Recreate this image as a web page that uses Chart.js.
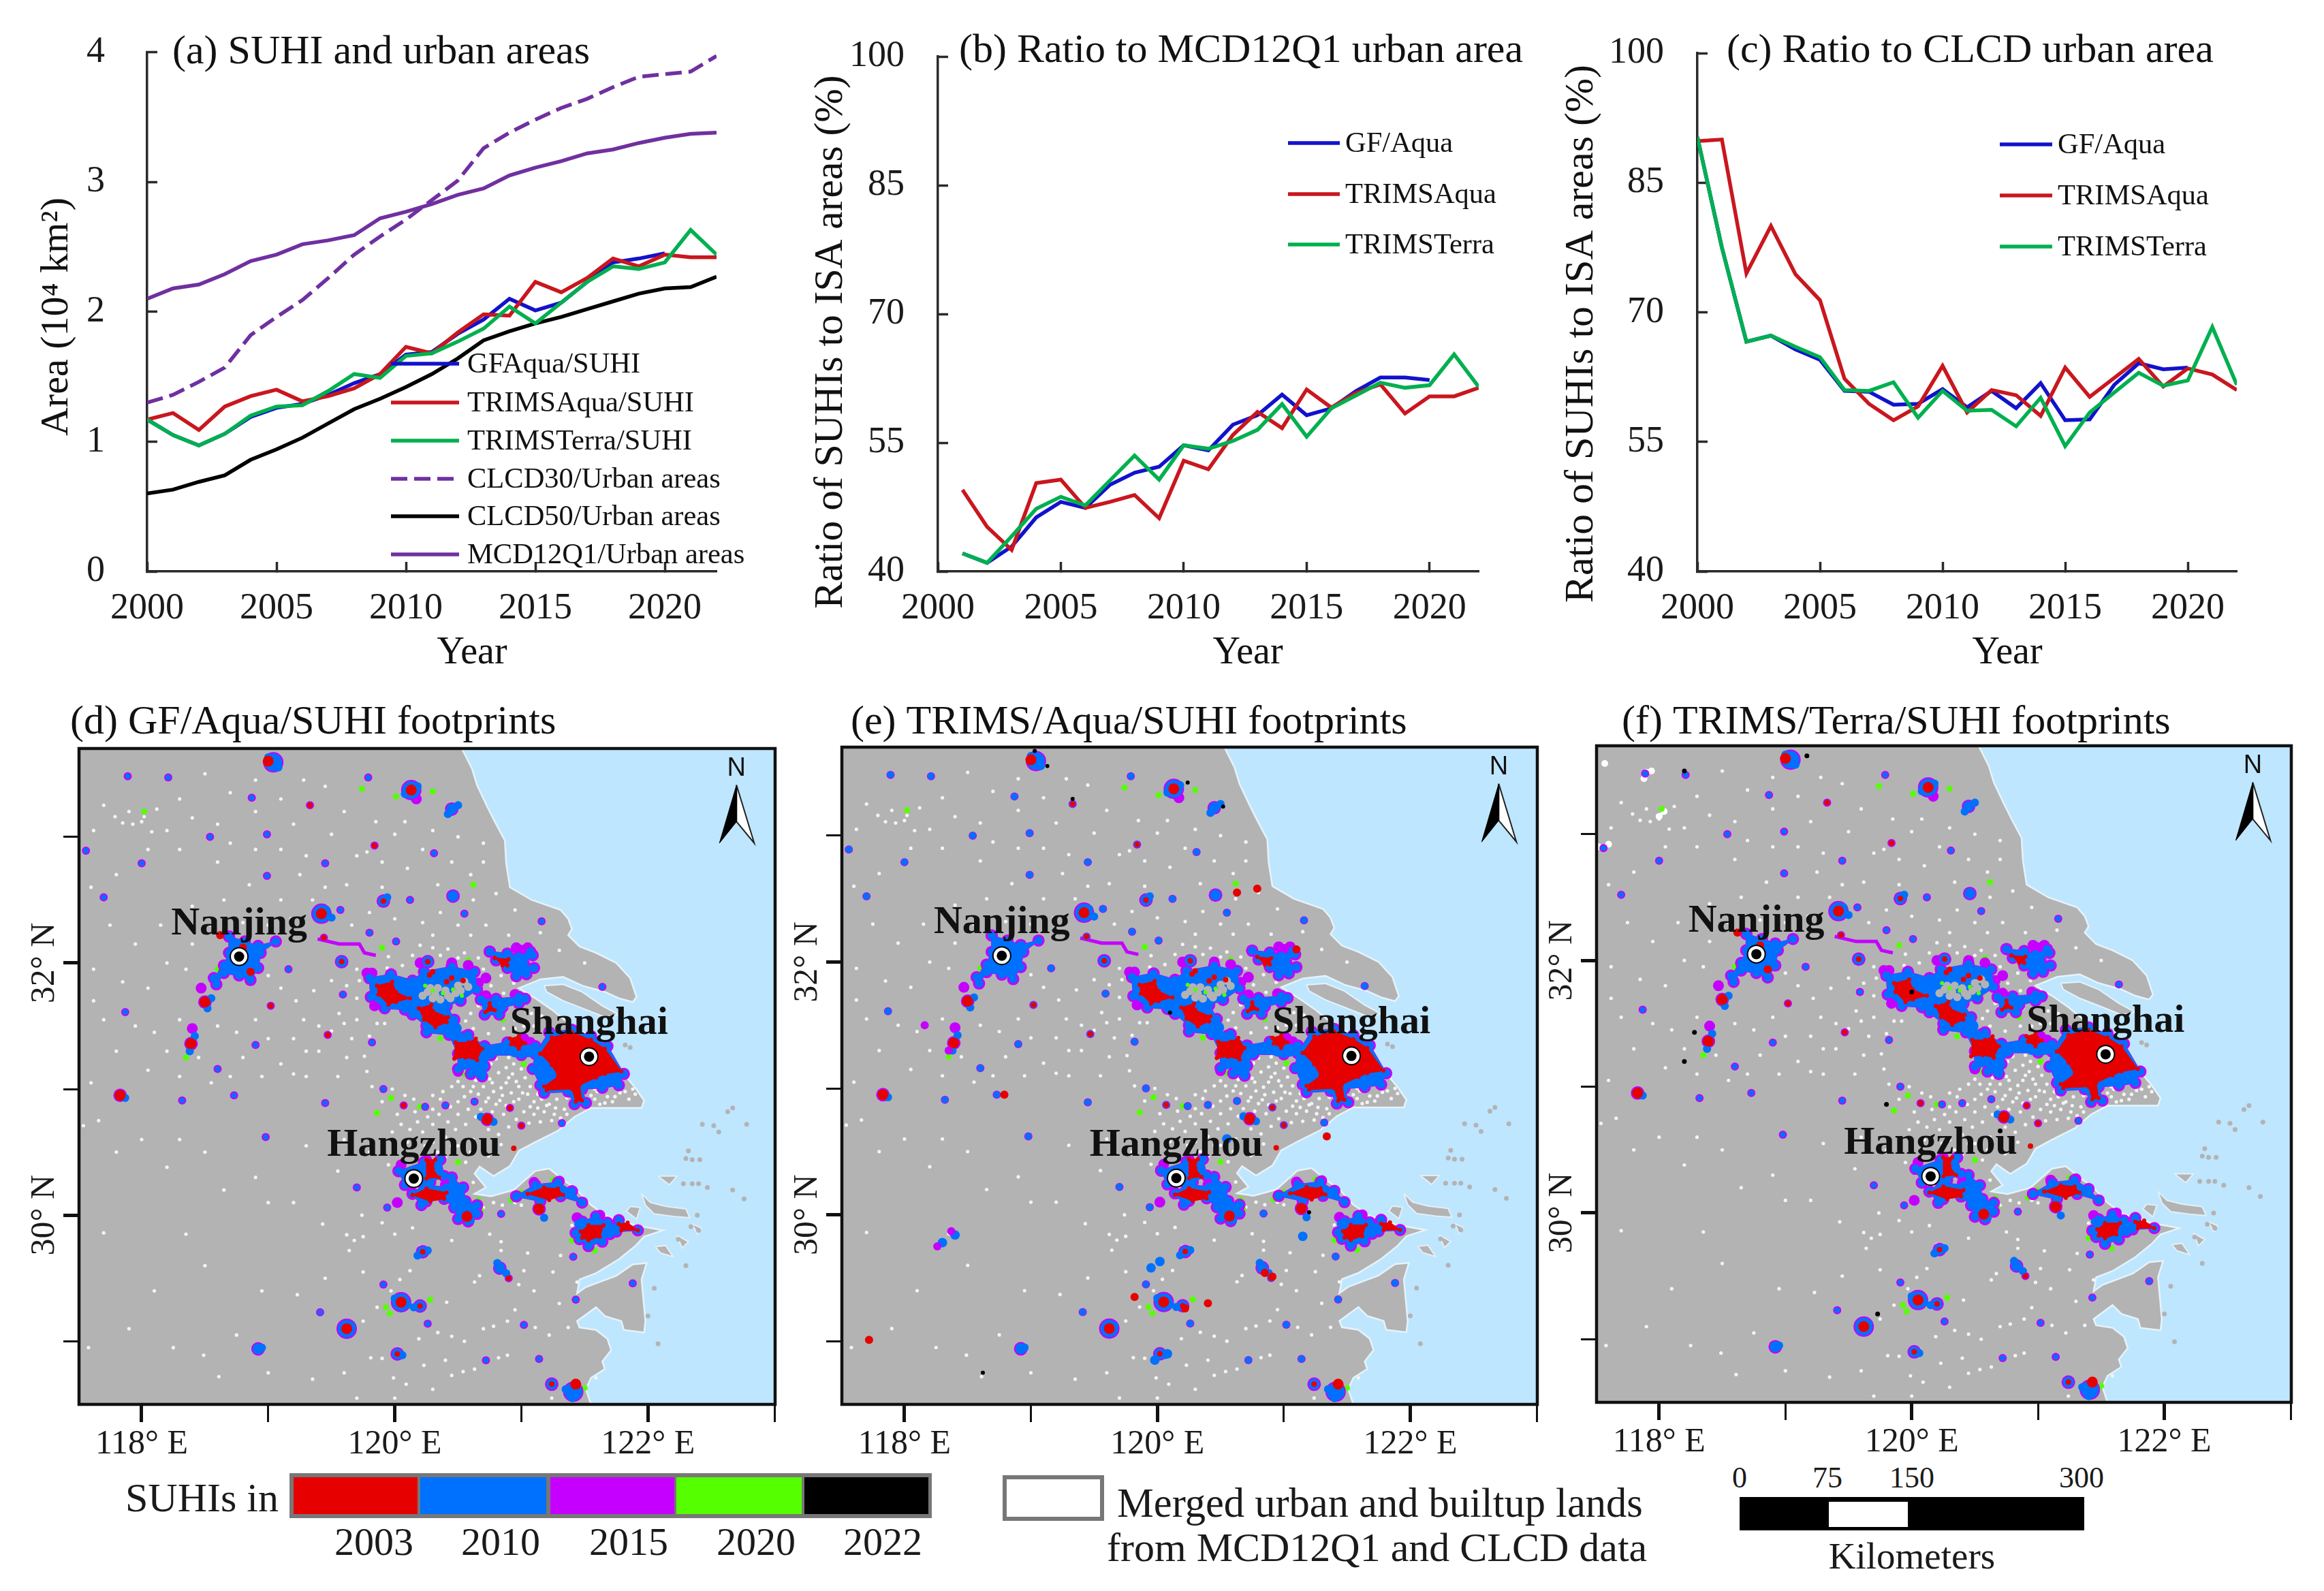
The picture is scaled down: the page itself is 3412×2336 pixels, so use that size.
<!DOCTYPE html>
<html>
<head>
<meta charset="utf-8">
<title>SUHI and urban areas</title>
<script src="https://cdn.jsdelivr.net/npm/chart.js@4/dist/chart.umd.min.js"></script>
<style>
  body { margin: 0; background: #fff; width: 3412px; height: 2336px; overflow: hidden; position: relative; font-family: "Liberation Serif", serif; color: #1a1a1a; }
  canvas { position: absolute; }
  .t { position: absolute; white-space: nowrap; transform: translate(0, -50%); line-height: 1; }
  .c { transform: translate(-50%, -50%); }
  .r { position: absolute; box-sizing: border-box; }
</style>
</head>
<body>
<script>
// ---------- line panels: values ----------
const years = [2000,2001,2002,2003,2004,2005,2006,2007,2008,2009,2010,2011,2012,2013,2014,2015,2016,2017,2018,2019,2020,2021,2022];

const areaGF = [1.17,1.05,0.97,1.06,1.19,1.26,1.29,1.36,1.45,1.52,1.67,1.69,1.83,1.94,2.10,2.01,2.07,2.23,2.38,2.41,2.45,null,null];
const areaTrimsAqua = [1.17,1.22,1.09,1.27,1.35,1.40,1.31,1.35,1.41,1.52,1.73,1.68,1.84,1.98,1.97,2.23,2.15,2.26,2.41,2.35,2.44,2.42,2.42];
const areaTrimsTerra = [1.17,1.05,0.97,1.06,1.20,1.27,1.28,1.39,1.52,1.49,1.66,1.68,1.77,1.87,2.04,1.91,2.07,2.23,2.35,2.33,2.38,2.63,2.44];
const areaClcd30 = [1.30,1.36,1.46,1.57,1.82,1.96,2.09,2.26,2.44,2.58,2.71,2.86,3.01,3.26,3.38,3.48,3.57,3.64,3.73,3.81,3.83,3.85,3.97];
const areaClcd50 = [0.60,0.63,0.69,0.74,0.86,0.94,1.03,1.14,1.25,1.33,1.42,1.52,1.64,1.78,1.85,1.91,1.96,2.02,2.08,2.14,2.18,2.19,2.27];
const areaMcd = [2.10,2.18,2.21,2.29,2.39,2.44,2.52,2.55,2.59,2.72,2.77,2.83,2.90,2.95,3.05,3.11,3.16,3.22,3.25,3.30,3.34,3.37,3.38];

const mcdGF = [null,42.1,41.0,42.9,46.3,48.1,47.4,50.1,51.5,52.2,54.7,54.1,57.1,58.2,60.6,58.2,59.0,61.0,62.6,62.6,62.3,null,null];
const mcdTrimsAqua = [null,49.5,45.2,42.5,50.3,50.7,47.4,48.1,48.9,46.2,52.9,51.9,55.9,58.6,56.7,61.2,59.1,60.8,61.8,58.4,60.4,60.4,61.4];
const mcdTrimsTerra = [null,42.1,41.0,44.1,47.3,48.7,47.7,50.6,53.5,50.7,54.7,54.3,55.2,56.5,59.5,55.7,59.0,60.5,62.0,61.4,61.7,65.3,61.5];

const clcdGF = [90.3,77.5,66.6,67.3,65.7,64.5,60.9,60.8,59.3,59.4,61.1,59.0,60.9,58.9,61.8,57.5,57.6,61.6,64.1,63.4,63.6,null,null];
const clcdTrimsAqua = [89.8,90.0,74.5,80.0,74.4,71.4,62.3,59.4,57.5,59.1,63.8,58.4,61.0,60.4,58.0,63.6,60.2,62.4,64.6,61.4,63.5,62.8,61.0];
const clcdTrimsTerra = [90.3,77.5,66.6,67.3,66.0,64.8,61.0,60.9,61.9,57.8,60.9,58.6,58.7,56.8,60.1,54.5,58.4,60.7,63.0,61.5,62.1,68.3,61.6];

// ---------- map panels: everything in degrees lon/lat ----------
const lonTicks = [118,119,120,121,122,123];
const latTicks = [29,30,31,32,33];
const cityNames = ['Nanjing','Shanghai','Hangzhou'];
const cityPoints = [[118.77,32.05],[121.535,31.257],[120.15,30.29]];
const arrowLeft = [[122.70,33.41],[122.565,32.95],[122.70,33.12]];
const arrowRight = [[122.70,33.41],[122.70,33.12],[122.84,32.95]];
const arrowN = [122.70,33.54];

const mainland = [[120.53,33.80],[120.53,33.70],[120.61,33.54],[120.65,33.41],[120.73,33.24],[120.79,33.12],[120.87,32.97],[120.88,32.79],[120.91,32.60],[121.08,32.50],[121.31,32.42],[121.37,32.35],[121.40,32.27],[121.37,32.22],[121.46,32.13],[121.59,32.08],[121.75,32.00],[121.86,31.88],[121.91,31.73],[121.88,31.69],[121.77,31.72],[121.66,31.77],[121.48,31.82],[121.33,31.89],[121.15,31.87],[120.98,31.80],[121.11,31.72],[121.24,31.63],[121.40,31.50],[121.66,31.36],[121.77,31.19],[121.81,31.12],[121.90,31.01],[121.97,30.91],[121.95,30.85],[121.77,30.85],[121.55,30.85],[121.42,30.78],[121.29,30.67],[121.11,30.58],[120.98,30.51],[120.94,30.44],[120.91,30.39],[120.78,30.31],[120.67,30.385],[120.63,30.33],[120.72,30.22],[120.63,30.17],[120.76,30.15],[120.94,30.20],[121.11,30.35],[121.22,30.37],[121.33,30.28],[121.44,30.20],[121.55,30.08],[121.68,29.99],[121.90,29.92],[122.12,29.88],[121.97,29.83],[121.90,29.755],[121.77,29.65],[121.59,29.54],[121.46,29.49],[121.44,29.38],[121.51,29.43],[121.75,29.52],[121.88,29.61],[121.99,29.62],[121.95,29.49],[121.97,29.27],[121.98,29.16],[121.97,29.07],[121.81,29.09],[121.79,29.16],[121.66,29.20],[121.59,29.27],[121.44,29.16],[121.46,29.11],[121.59,29.09],[121.68,29.02],[121.71,28.93],[121.64,28.84],[121.66,28.78],[121.55,28.71],[121.51,28.62],[121.55,28.50],[121.55,28.40],[117.4,28.40],[117.4,33.80]];
const chongming = [[121.18,31.82],[121.33,31.83],[121.48,31.77],[121.64,31.66],[121.77,31.59],[121.66,31.57],[121.51,31.63],[121.33,31.70],[121.20,31.77]];
const islandA = [[121.95,30.17],[122.02,30.10],[122.14,30.07],[122.30,30.05],[122.33,29.98],[122.20,29.99],[122.05,30.01],[121.98,30.08]];
const islandB = [[121.86,30.07],[121.94,30.06],[121.91,29.97],[121.83,30.03]];
const islandC = [[122.06,29.75],[122.14,29.76],[122.20,29.67],[122.10,29.70]];
const islandD = [[122.23,29.84],[122.32,29.79],[122.27,29.74]];
const islandE = [[122.35,29.93],[122.42,29.90],[122.39,29.85]];
const islandF = [[122.08,30.31],[122.23,30.31],[122.17,30.24]];
const seaSpecks = [[122.43,30.72],[122.52,30.71],[122.56,30.66],[122.78,30.72],[122.67,30.85],[122.63,30.82],[122.35,30.44],[122.30,30.45],[122.41,30.44],[122.32,30.51],[122.28,30.25],[122.35,30.25],[122.40,30.25],[122.47,30.22],[122.67,30.20],[122.76,30.13],[122.39,30.00],[122.40,29.88],[122.34,29.91],[122.24,29.81],[121.82,31.35],[121.86,31.33],[122.30,29.60],[122.05,29.42],[122.00,29.20],[122.08,28.98]];

const urbanSpecks = [[120.75,31.08],[120.82,31.13],[120.88,31.05],[120.93,31.12],[120.98,31.02],[121.03,31.09],[120.78,30.98],[120.85,30.95],[120.92,30.97],[120.98,30.92],[121.05,30.96],[121.10,30.90],[121.16,30.92],[121.22,30.88],[121.28,30.92],[120.72,30.90],[120.80,30.88],[120.88,30.87],[121.02,30.82],[121.10,30.80],[121.18,30.82],[121.26,30.80],[121.34,30.84],[121.55,30.95],[121.60,30.98],[121.68,30.94],[121.72,30.90],[121.78,30.97],[121.85,30.92],[121.52,30.86],[121.62,30.88],[120.70,31.02],[120.66,30.96],[120.60,30.98],[120.55,30.94],[120.50,30.90],[120.44,30.86],[120.36,30.92],[120.30,30.84],[120.16,30.82],[120.02,30.80],[119.90,30.90],[119.82,31.02],[119.78,31.14],[119.76,31.26],[119.80,31.42],[119.86,31.52],[120.62,31.02],[120.68,30.84],[120.74,30.68],[120.82,30.64],[120.90,30.70],[120.56,30.72],[120.48,30.68],[120.40,30.62],[120.62,30.60],[120.30,30.72],[120.22,30.66],[120.10,30.58],[120.40,30.46],[120.56,30.42],[120.46,30.30],[120.62,30.26],
 [120.88,31.62],[120.80,31.70],[120.72,31.60],[120.95,31.55],[121.02,31.50],[120.86,31.48],[121.08,31.60],[120.66,32.04],[120.55,32.08],[120.42,32.11],[120.30,32.12],[120.20,32.14],[120.70,31.95],[119.95,32.05],[119.70,31.95],[119.50,31.86],[119.36,31.78],[119.22,31.70],[119.10,31.80],[119.00,31.90],[119.28,31.55],[119.56,31.60],[119.70,31.55],[119.66,31.40],[119.40,31.30],[119.20,31.40],[119.10,31.20],[119.30,31.10],[119.55,31.10],[119.62,31.25],
 [120.36,32.40],[120.62,32.50],[120.72,32.30],[120.50,32.30],[120.22,32.32],[120.00,32.35],[119.80,32.40],[119.66,32.30],[119.62,32.62],[119.70,32.85],[119.78,32.88],[119.90,32.80],[120.10,32.75],[120.34,32.62],[120.60,32.70],[120.70,32.95],[120.50,33.00],[120.30,33.05],[120.08,33.12],[119.85,33.12],[119.60,33.20],[119.45,33.40],[119.28,33.45],[119.10,33.30],[118.90,33.20],[118.70,33.35],[118.50,33.50],[118.30,33.30],[118.12,33.22],[117.79,33.16],[117.85,33.11],[117.93,33.10],[118.00,33.12],[118.08,33.04],[118.02,33.16],[117.90,33.20],[117.70,33.25],[117.62,33.05],[118.30,32.90],[118.60,32.80],[118.85,32.62],[119.10,32.50],[119.25,32.70],[118.65,32.50],[118.40,32.45],[118.15,32.30],[117.95,32.15],[117.75,32.30],[118.20,32.00],[118.05,31.80],[117.85,31.85],[118.30,31.55],[118.60,31.50],[118.75,31.45],[118.90,31.55],[119.00,31.40],[118.80,31.25],[118.55,31.05],[118.30,31.10],[118.05,31.15],[117.80,31.30],[117.60,31.05],
 [117.54,30.71],[117.66,30.75],[118.20,30.38],[117.70,29.86],[117.58,28.95],[118.49,28.89],[118.61,28.72],[119.23,29.37],[119.43,29.93],[119.68,29.80],[119.30,30.55],[118.65,30.20],[118.35,29.85],[119.00,30.10],
 [120.45,28.73],[120.54,28.76],[120.63,28.78],[120.71,28.84],[120.82,28.87],[120.89,28.89],[119.99,28.71],[120.09,28.66],[120.23,28.81],[119.81,28.87],[119.90,28.865],[120.78,29.12],[120.89,29.16],[121.11,29.11],[121.22,29.05],[121.37,29.11],[120.84,29.79],[120.84,29.72],[120.82,29.63],[120.12,29.56],[120.04,29.49],[119.97,29.40],[119.86,29.27],[119.75,29.16],[120.19,29.02],[120.34,29.07],[120.45,29.04],[120.41,29.31],[120.14,29.90],[119.62,29.845],[119.75,29.83],[119.64,29.72],[119.90,29.94],[119.74,30.00],[121.40,29.92],[121.31,29.68],[121.44,29.47],[121.59,28.71],[121.24,28.55],[120.67,29.52],[120.63,29.47],[120.98,29.45],[121.02,29.56],[120.45,29.80],[120.95,30.10],[120.85,30.08],[120.78,30.10],[120.70,30.06],[121.00,30.08],
 [120.77,31.05],[120.84,31.01],[120.90,31.09],[120.96,31.06],[121.01,30.97],[121.07,31.02],[121.13,30.96],[121.19,31.00],[120.74,30.93],[120.83,30.91],[120.94,30.90],[121.07,30.86],[121.13,30.85],[121.20,30.87],[121.27,30.85],[121.31,30.77],[121.24,30.75],[121.15,30.74],[121.06,30.73],[120.96,30.76],[120.86,30.80],[120.77,30.82],[120.64,30.78],[120.58,30.84],[120.50,30.80],[120.42,30.74],[120.35,30.80],[120.26,30.78],[120.18,30.74],[120.12,30.68],[120.05,30.72],[119.98,30.66],[120.30,30.58],[120.50,30.55],[120.70,30.55],[120.84,30.56],[120.74,30.47],[120.60,30.50],[120.45,30.55],[120.34,30.50],[120.24,30.55],[120.16,30.48],[121.58,30.92],[121.66,30.89],[121.74,30.94],[121.82,30.98],[121.58,31.00],[121.46,30.88],[121.36,30.93],[121.33,31.00],[121.36,30.80],[121.90,30.96],[121.88,31.00],
 [120.76,31.20],[120.80,31.24],[120.88,31.17],[120.94,31.20],[121.00,31.16],[121.06,31.18],[120.56,31.12],[120.64,31.07],[120.50,31.06],[120.45,31.02],[120.54,31.02],[120.38,30.98],[120.30,30.95],[120.15,30.92],[120.08,30.95],[119.98,31.00],[120.90,31.25],[120.80,31.60],[120.66,31.66],[120.74,31.76],[120.86,31.76],[120.94,31.84],[120.60,31.60],[120.56,31.54],[120.62,31.48],[120.74,31.44],[120.95,31.48],[121.10,31.50],[121.16,31.58],[120.84,31.90],[120.76,31.82],[120.60,32.00],[120.50,32.04],[120.36,32.06],[120.14,32.06],[120.06,31.98],[119.94,31.96],[119.70,31.72],[119.60,31.52],[119.92,31.52],[119.72,31.86],[119.62,31.82],
 [119.40,31.50],[119.50,31.46],[119.30,31.30],[119.20,31.12],[118.95,31.10],[118.70,31.10],[118.45,31.25],[118.20,31.30],[118.10,31.45],[117.95,31.50],[117.70,31.55],[117.62,31.70],[117.62,31.95],[118.35,31.95],[118.40,32.15],[118.55,32.30],[118.80,32.32],[119.00,32.30],[119.18,32.35],[119.35,32.50],[119.45,32.60],[119.30,32.85],[119.10,32.90],[118.90,32.90],[118.70,32.95],[118.40,33.15],[118.20,33.05],[118.05,32.90],[117.80,32.70],[117.60,32.60],[118.60,33.10],[118.90,33.45],[119.20,33.10],[119.50,33.02],[120.00,33.02],[120.22,32.90],[120.45,32.80],[120.70,32.80],[120.80,32.55],[120.95,32.42],[121.15,32.24],[121.30,32.10],[121.50,32.00],[120.90,32.22],[120.60,32.22],[120.30,32.22],[119.90,32.60],[118.30,30.60],[118.00,30.60],[117.80,30.50],[118.50,30.50],[118.90,30.30],[119.20,30.10],[119.55,30.35],[119.60,30.60],[119.80,30.50],[119.95,30.40],[119.75,29.55],[119.45,29.50],[118.95,29.40],[118.50,29.60],[118.10,29.40],[117.90,29.10],[118.25,28.95],[118.75,29.05],[119.00,28.75],[119.35,28.70],[119.60,28.75],[119.70,28.55],[120.00,28.55],[120.30,28.62],[120.40,28.85],[120.55,29.00],[120.70,29.10],[120.95,29.25],[121.10,29.40],[121.30,29.30],[121.25,29.55],[121.05,29.70],[120.75,29.85],[120.55,29.95],[120.20,29.75],[120.00,29.85]];

// metropolitan footprints
const blueAreas = [
 [[119.80,31.88],[119.97,31.91],[120.14,31.86],[120.23,31.93],[120.45,31.97],[120.63,31.93],[120.65,31.79],[120.52,31.70],[120.41,31.66],[120.47,31.55],[120.45,31.45],[120.58,31.43],[120.71,31.34],[120.89,31.37],[121.11,31.34],[121.15,31.25],[121.00,31.27],[120.76,31.27],[120.71,31.18],[120.69,31.10],[120.60,31.12],[120.60,31.19],[120.50,31.16],[120.50,31.28],[120.43,31.43],[120.25,31.45],[120.25,31.50],[120.14,31.59],[120.08,31.63],[119.92,31.64],[119.81,31.73]],
 [[121.11,31.28],[121.22,31.45],[121.40,31.47],[121.55,31.42],[121.68,31.34],[121.81,31.12],[121.77,31.03],[121.64,31.01],[121.48,31.00],[121.51,30.89],[121.42,30.88],[121.37,30.98],[121.18,30.97],[121.15,31.03],[121.09,31.16]],
 [[120.14,30.17],[120.23,30.24],[120.41,30.22],[120.45,30.30],[120.54,30.22],[120.56,30.11],[120.65,30.08],[120.65,30.01],[120.58,29.95],[120.50,29.97],[120.47,30.06],[120.39,30.13],[120.25,30.11],[120.21,30.08]],
 [[120.03,30.35],[120.23,30.42],[120.36,30.44],[120.39,30.31],[120.28,30.26],[120.08,30.24]],
 [[120.96,30.15],[121.11,30.24],[121.29,30.26],[121.40,30.19],[121.48,30.10],[121.31,30.15],[121.15,30.11]],
 [[121.43,29.86],[121.48,29.95],[121.59,29.99],[121.68,29.94],[121.77,29.92],[121.77,29.96],[121.92,29.88],[121.75,29.87],[121.70,29.85],[121.64,29.79],[121.53,29.755],[121.46,29.81]],
 [[120.75,32.09],[120.89,32.075],[120.98,32.05],[121.07,32.09],[121.09,32.06],[121.02,31.995],[121.10,31.96],[121.04,31.91],[120.96,31.895],[120.89,31.96],[120.80,32.02]],
 [[118.69,32.21],[118.815,32.17],[118.92,32.135],[119.06,32.17],[118.94,32.08],[118.92,31.96],[118.86,31.865],[118.77,31.90],[118.65,31.92],[118.59,31.83],[118.57,31.88],[118.65,31.98],[118.69,32.08]],
 [[120.68,31.71],[120.80,31.715],[120.98,31.73],[121.03,31.715],[120.98,31.68],[120.85,31.645],[120.825,31.59],[120.71,31.59]]
];
const redAreas = [
 [[121.15,31.28],[121.24,31.41],[121.40,31.45],[121.55,31.39],[121.66,31.32],[121.79,31.14],[121.66,31.12],[121.59,31.09],[121.46,31.03],[121.48,30.91],[121.43,30.90],[121.40,31.00],[121.20,30.99],[121.18,31.02],[121.29,31.10],[121.24,31.19]],
 [[119.86,31.82],[119.98,31.85],[120.01,31.77],[120.12,31.72],[120.01,31.69],[119.95,31.67],[119.87,31.75]],
 [[120.19,31.64],[120.29,31.67],[120.30,31.62],[120.42,31.57],[120.41,31.53],[120.32,31.49],[120.23,31.55]],
 [[120.48,31.37],[120.58,31.37],[120.64,31.40],[120.69,31.32],[120.65,31.23],[120.56,31.25],[120.47,31.24]],
 [[120.14,30.16],[120.25,30.21],[120.41,30.18],[120.39,30.13],[120.28,30.11]],
 [[120.25,30.44],[120.32,30.44],[120.30,30.37],[120.35,30.30],[120.25,30.29]],
 [[121.05,30.17],[121.18,30.22],[121.29,30.21],[121.33,30.16],[121.22,30.12]],
 [[121.47,29.87],[121.53,29.92],[121.65,29.92],[121.62,29.83],[121.53,29.80],[121.48,29.82]],
 [[121.77,29.93],[121.84,29.94],[121.92,29.88],[121.79,29.88]],
 [[120.79,32.04],[120.90,32.03],[120.89,31.98],[120.85,31.98]],
 [[120.75,31.68],[120.79,31.625],[120.715,31.61]],
 [[120.91,31.40],[120.98,31.42],[121.03,31.365],[120.98,31.32],[120.92,31.355]]
];
const purpleRoad = [[119.39,32.19],[119.56,32.15],[119.72,32.15],[119.76,32.08],[119.85,32.06]];

const townsLarge = [[119.04,33.59],[120.13,33.37],[119.42,32.39],[120.05,29.31],[119.62,29.10],[121.41,28.60]];
const townsMid = [[120.45,33.22],[119.91,32.49],[118.50,31.69],[118.39,31.36],[117.83,30.95],[120.73,30.76],[120.22,29.71],[120.46,32.53],[119.58,32.01],[121.14,30.05],[120.57,29.99],[120.20,29.28],[118.92,28.94],[120.02,28.90],[120.26,32.01],[121.24,28.66],[120.83,29.58]];
const townsSmall = [[119.33,33.25],[119.79,33.47],[118.21,33.47],[117.89,33.48],[118.54,33.00],[118.87,33.31],[118.99,33.02],[119.84,32.93],[120.31,32.87],[119.45,32.79],[118.00,32.79],[117.70,32.52],[117.56,32.89],[118.99,32.69],[120.12,32.50],[120.55,32.39],[119.57,32.42],[119.44,32.20],[119.80,32.24],[120.01,32.17],[121.16,32.33],[121.64,31.81],[119.16,31.95],[119.02,31.66],[117.87,31.61],[118.90,31.35],[118.60,31.16],[119.47,31.43],[119.82,31.37],[119.59,31.75],[118.73,30.95],[119.91,31.00],[120.07,30.87],[120.24,30.86],[120.40,30.87],[120.63,30.90],[120.91,30.85],[121.00,30.71],[121.32,30.73],[118.98,30.62],[119.45,30.89],[118.32,30.91],[119.70,30.22],[119.94,30.06],[120.84,30.01],[120.90,29.50],[121.41,29.67],[121.88,29.46],[119.91,29.45],[119.41,29.23],[120.26,29.14],[121.43,29.33],[121.02,29.13],[121.14,28.86],[120.72,28.85]];
const townBumps = [[119.08,33.55],[119.00,33.63],[120.18,33.40],[120.08,33.34],[119.46,32.42],[119.50,32.36],[120.10,29.29],[120.00,29.34],[119.66,29.12],[118.52,31.64],[118.38,31.30],[118.42,31.42],[120.78,30.74],[120.68,30.78],[120.18,29.68],[120.26,29.72],[120.81,29.62],[120.88,29.54],[120.15,29.27],[121.45,29.93],[121.40,28.55],[121.35,28.62],[118.95,28.95],[120.06,28.89],[118.55,31.72],[117.87,30.93],[119.94,32.52],[120.50,33.25],[120.42,33.18],[121.18,29.98],[120.60,29.96]];
const corridorBlue = [[120.40,31.50],[120.48,31.48],[120.52,31.40],[120.60,31.36],[120.75,31.30],[120.85,31.32],[120.95,31.30],[121.05,31.30],[120.30,31.62],[120.38,31.70],[120.15,31.75],[119.95,31.75],[120.30,31.90],[120.68,31.13],[120.55,31.20]];
const redLarge = [[119.00,33.60],[120.13,33.37],[119.42,32.39],[120.05,29.31],[119.62,29.10],[121.43,28.66],[118.50,31.69],[118.39,31.36],[117.83,30.95],[120.73,30.76],[121.14,30.05],[120.57,29.99]];
const redSmall = [[119.33,33.25],[119.84,32.93],[119.91,32.49],[119.44,32.20],[119.02,31.66],[119.58,32.01],[120.26,32.01],[120.91,30.85],[120.94,30.53],[121.00,30.71],[120.22,29.71],[120.90,29.50],[120.02,28.90],[121.24,28.66],[120.20,29.28],[119.47,31.43],[120.07,30.87],[120.275,31.905],[120.41,31.85],[120.54,31.86],[120.30,31.93],[120.45,31.88]];
const greenSpots = [[119.86,30.81],[120.20,30.86],[119.97,30.93],[120.50,30.42],[120.66,30.12],[120.42,30.30],[120.92,30.12],[121.00,30.18],[121.47,28.59],[121.50,28.63],[120.58,32.02],[118.60,31.95],[118.35,31.25],[118.02,33.20],[119.74,33.38],[120.01,33.32],[120.30,33.36],[121.58,29.72],[121.40,29.80],[120.62,32.62],[119.93,29.27],[120.28,29.33],[119.90,32.12],[121.02,31.20],[120.55,31.12],[120.36,31.40],[120.85,31.55],[119.96,29.22],[120.68,30.04],[121.50,29.95],[121.25,30.28]];
const purpleSpots = [[120.58,31.98],[120.20,32.00],[119.82,31.92],[120.72,31.88],[120.45,32.00],[121.02,31.40],[121.05,32.12],[120.40,30.24],[120.02,30.10],[121.10,30.26],[121.30,30.27],[118.40,31.48],[118.47,31.80],[120.17,33.30],[121.00,32.10],[119.78,31.92],[119.84,31.66],[120.10,31.62],[120.66,31.84],[120.55,31.42],[120.95,31.75],[120.72,31.74],[120.50,31.14],[121.07,31.37],[120.25,30.44],[120.05,30.40],[121.44,29.98],[121.62,30.00],[120.96,32.12]];
const holeSpecks = [[120.32,31.75],[120.40,31.78],[120.48,31.76],[120.28,31.80],[120.36,31.71],[120.55,31.85],[120.22,31.74],[120.44,31.72],[120.52,31.78],[120.26,31.77],[120.34,31.80],[120.42,31.74],[120.58,31.81],[120.30,31.72],[120.50,31.82]];
const holeGreen = [[120.38,31.76],[120.46,31.79],[120.30,31.78],[120.53,31.74],[120.24,31.82]];

// per panel differences
const extraNanjingRed = [[118.80,32.12],[118.86,31.93],[118.62,32.22]];
const panelERed = [[120.85,29.54],[120.91,29.51],[117.72,29.01],[120.63,32.55],[120.79,32.58],[120.22,29.26],[120.40,29.30],[119.82,29.35],[118.79,30.95],[121.34,30.62],[121.10,32.10]];
const panelEBlue = [[118.30,29.78],[118.40,29.84],[119.95,29.58],[120.02,29.63],[120.55,30.60],[119.98,28.85],[120.08,28.90],[121.15,29.83]];
const panelEPurple = [[118.26,29.75],[118.37,29.87],[118.35,31.30],[118.16,31.50]];
const panelEBlack = [[119.03,33.67],[119.13,33.55],[120.24,33.42],[120.52,33.23],[119.33,33.29],[120.10,31.60],[118.62,28.75],[121.20,30.02]];
const panelFBlack = [[118.20,33.50],[118.28,31.43],[118.20,31.20],[119.17,33.62],[120.00,31.75],[120.70,30.65],[119.80,30.86],[119.73,29.20]];
const panelFWhite = [[117.90,33.49],[117.88,33.44],[117.57,33.56],[117.94,33.50],[118.00,33.14],[118.04,33.18],[117.60,32.92],[117.52,32.90]];

// ---------- colours ----------
const suhiColors = ['#e60000','#0070ff','#c500ff','#55ff00','#000000'];
const legendYears = ['2003','2010','2015','2020','2022'];
const lineBlue = '#1212cc', lineRed = '#c9171e', lineGreen = '#00b04f', linePurple = '#7030a0', lineBlack = '#000000';

Chart.defaults.font.family = '"Liberation Serif", serif';
Chart.defaults.color = '#1a1a1a';
const axisColor = '#2a2a2a';

function addCanvas(left, top, w, h) {
    const c = document.createElement('canvas');
    c.width = w; c.height = h;
    c.style.left = left + 'px'; c.style.top = top + 'px';
    c.style.width = w + 'px'; c.style.height = h + 'px';
    document.body.appendChild(c);
    return c;
}

function drawText(ctx, text, x, y, font, rot, align) {
    ctx.save();
    ctx.translate(x, y);
    if (rot) ctx.rotate(rot);
    ctx.font = font;
    ctx.fillStyle = '#111';
    ctx.textAlign = align || 'left';
    ctx.textBaseline = 'middle';
    ctx.fillText(text, 0, 0);
    ctx.restore();
}

// the tick padding would otherwise push the plot area away from where it belongs
function noScalePadding(s) {
    s.paddingTop = s.paddingBottom = s.paddingLeft = s.paddingRight = 0;
}

// cfg.box = canvas box on the page, cfg.plot = plot rectangle on the page
function linePanel(cfg) {
    const {box, plot} = cfg;
    const canvas = addCanvas(box.l, box.t, box.w, box.h);
    new Chart(canvas, {
        type: 'line',
        data: {
            datasets: cfg.series.map(s => ({
                label: s.label,
                data: s.values.map((v, i) => ({x: years[i], y: v})),
                borderColor: s.color,
                borderWidth: 5.5,
                borderDash: s.dash || [],
                pointRadius: 0,
                tension: 0,
                spanGaps: false,
                order: -s.z
            }))
        },
        options: {
            responsive: false,
            animation: false,
            layout: {autoPadding: false, padding: {top: plot.t - box.t, right: box.l + box.w - plot.r, left: 0, bottom: 0}},
            plugins: {legend: {display: false}, tooltip: {enabled: false}},
            scales: {
                x: {
                    type: 'linear', min: 2000, max: 2022,
                    afterFit(s) { s.height = box.t + box.h - plot.b; noScalePadding(s); },
                    border: {color: axisColor, width: 3.5},
                    grid: {drawOnChartArea: false, tickLength: -14, tickWidth: 3.5, tickColor: axisColor},
                    ticks: {stepSize: 5, includeBounds: false, maxRotation: 0, autoSkip: false, padding: 36, font: {size: 54}, callback: v => String(v)}
                },
                y: {
                    min: cfg.yMin, max: cfg.yMax,
                    afterFit(s) { s.width = plot.l - box.l; noScalePadding(s); },
                    border: {color: axisColor, width: 3.5},
                    grid: {drawOnChartArea: false, tickLength: -15, tickWidth: 3.5, tickColor: axisColor},
                    ticks: {stepSize: cfg.yStep, includeBounds: false, padding: cfg.yPad, font: {size: 54}}
                }
            }
        },
        plugins: [{
            id: 'panelText',
            afterDraw(chart) {
                const ctx = chart.ctx;
                drawText(ctx, cfg.title, cfg.titleX - box.l, cfg.titleY + 2 - box.t, '60px "Liberation Serif"');
                drawText(ctx, cfg.yTitle, cfg.yTitleX - box.l, cfg.yTitleY - box.t, cfg.yTitleSize + 'px "Liberation Serif"', -Math.PI / 2, 'center');
                drawText(ctx, 'Year', cfg.xTitleX - box.l, 959 - box.t, '56px "Liberation Serif"', 0, 'center');
                cfg.legend.rows.forEach(r => {
                    ctx.save();
                    ctx.strokeStyle = r.color;
                    ctx.lineWidth = 5.5;
                    ctx.setLineDash(r.dash || []);
                    ctx.beginPath();
                    ctx.moveTo(cfg.legend.x0 - box.l, r.y - box.t);
                    ctx.lineTo(cfg.legend.x1 - box.l, r.y - box.t);
                    ctx.stroke();
                    ctx.restore();
                    drawText(ctx, r.label, cfg.legend.tx - box.l, r.y - box.t + 2, '42.5px "Liberation Serif"');
                });
            }
        }]
    });
}

linePanel({
    box: {l: 0, t: 0, w: 1150, h: 1000}, plot: {l: 216, t: 76.5, r: 1052, b: 839},
    yMin: 0, yMax: 4, yStep: 1, yPad: 77,
    title: '(a) SUHI and urban areas', titleX: 253, titleY: 75,
    yTitle: 'Area (10\u2074 km\u00b2)', yTitleX: 84, yTitleY: 465, yTitleSize: 58, xTitleX: 693,
    series: [
        {label: 'MCD12Q1/Urban areas', values: areaMcd, color: linePurple, z: 0},
        {label: 'CLCD50/Urban areas', values: areaClcd50, color: lineBlack, z: 1},
        {label: 'CLCD30/Urban areas', values: areaClcd30, color: linePurple, dash: [24, 10], z: 2},
        {label: 'GFAqua/SUHI', values: areaGF, color: lineBlue, z: 3},
        {label: 'TRIMSAqua/SUHI', values: areaTrimsAqua, color: lineRed, z: 4},
        {label: 'TRIMSTerra/SUHI', values: areaTrimsTerra, color: lineGreen, z: 5}
    ],
    legend: {x0: 574, x1: 674, tx: 686, rows: [
        {label: 'GFAqua/SUHI', color: lineBlue, y: 534},
        {label: 'TRIMSAqua/SUHI', color: lineRed, y: 591},
        {label: 'TRIMSTerra/SUHI', color: lineGreen, y: 647},
        {label: 'CLCD30/Urban areas', color: linePurple, dash: [24, 10], y: 703},
        {label: 'CLCD50/Urban areas', color: lineBlack, y: 758},
        {label: 'MCD12Q1/Urban areas', color: linePurple, y: 814}
    ]}
});

linePanel({
    box: {l: 1150, t: 0, w: 1150, h: 1000}, plot: {l: 1377, t: 83, r: 2171, b: 839},
    yMin: 40, yMax: 100, yStep: 15, yPad: 64,
    title: '(b) Ratio to MCD12Q1 urban area', titleX: 1408, titleY: 73,
    yTitle: 'Ratio of SUHIs to ISA areas (%)', yTitleX: 1220, yTitleY: 502, yTitleSize: 59.5, xTitleX: 1832,
    series: [
        {label: 'GF/Aqua', values: mcdGF, color: lineBlue, z: 0},
        {label: 'TRIMSAqua', values: mcdTrimsAqua, color: lineRed, z: 1},
        {label: 'TRIMSTerra', values: mcdTrimsTerra, color: lineGreen, z: 2}
    ],
    legend: {x0: 1891, x1: 1967, tx: 1975, rows: [
        {label: 'GF/Aqua', color: lineBlue, y: 210},
        {label: 'TRIMSAqua', color: lineRed, y: 285},
        {label: 'TRIMSTerra', color: lineGreen, y: 359}
    ]}
});

linePanel({
    box: {l: 2260, t: 0, w: 1150, h: 1000}, plot: {l: 2492, t: 78, r: 3284, b: 839},
    yMin: 40, yMax: 100, yStep: 15, yPad: 64,
    title: '(c) Ratio to CLCD urban area', titleX: 2535, titleY: 73,
    yTitle: 'Ratio of SUHIs to ISA areas (%)', yTitleX: 2322, yTitleY: 490, yTitleSize: 60, xTitleX: 2947,
    series: [
        {label: 'GF/Aqua', values: clcdGF, color: lineBlue, z: 0},
        {label: 'TRIMSAqua', values: clcdTrimsAqua, color: lineRed, z: 1},
        {label: 'TRIMSTerra', values: clcdTrimsTerra, color: lineGreen, z: 2}
    ],
    legend: {x0: 2936, x1: 3013, tx: 3021, rows: [
        {label: 'GF/Aqua', color: lineBlue, y: 212},
        {label: 'TRIMSAqua', color: lineRed, y: 287},
        {label: 'TRIMSTerra', color: lineGreen, y: 362}
    ]}
});

// ---------- maps ----------
const xy = p => ({x: p[0], y: p[1]});
function poly(pts, fill, border, bw, bump) {
    return {data: pts.concat([pts[0]]).map(xy), showLine: true, fill: 'shape', backgroundColor: fill, borderColor: border, borderWidth: bw, pointRadius: bump || 0, pointBackgroundColor: fill, pointBorderWidth: 0, tension: 0};
}
function dots(pts, color, r) {
    return {data: pts.map(xy), showLine: false, pointBackgroundColor: color, pointBorderWidth: 0, pointRadius: r};
}
const landGray = '#b3b3b3', [cRed, cBlue, cPurple, cGreen, cBlack] = suhiColors;

function mapLayers(panel) {
    let layers = [
        poly(mainland, landGray, '#e6f3f9', 2.5),
        poly(chongming, landGray, '#e6f3f9', 2),
        poly(islandA, landGray, '#e4eff4', 2), poly(islandB, landGray, '#e4eff4', 2), poly(islandC, landGray, '#e4eff4', 2),
        poly(islandD, landGray, '#e4eff4', 2), poly(islandE, landGray, '#e4eff4', 2), poly(islandF, landGray, '#e4eff4', 2),
        dots(seaSpecks, landGray, 3.5),
        dots(urbanSpecks, '#f4f4f4', 2.6)
    ];
    if (panel === 'f') layers.push(dots(panelFWhite, '#ffffff', 5));
    layers.push(dots(greenSpots, cGreen, 4.5));
    layers.push(dots(townsLarge, cPurple, 15), dots(townsMid, cPurple, 10), dots(townsSmall, cPurple, 6));
    // purple rim first, blue footprint over it
    blueAreas.forEach(a => layers.push(poly(a, cPurple, cPurple, 2, 9)));
    layers.push(dots(purpleSpots, cPurple, 8));
    blueAreas.forEach(a => layers.push(poly(a, cBlue, cBlue, 1, 6)));
    layers.push({data: purpleRoad.map(xy), showLine: true, borderColor: cPurple, borderWidth: 5, pointRadius: 0, tension: 0});
    layers.push(dots(townsLarge, cBlue, 13), dots(townsMid, cBlue, 8), dots(townsSmall, cBlue, panel === 'e' ? 5 : 4));
    layers.push(dots(townBumps, cBlue, 6), dots(corridorBlue, cBlue, 9));
    layers.push(dots(holeSpecks, landGray, 6), dots(holeGreen, cGreen, 3));
    redAreas.forEach(a => layers.push(poly(a, cRed, cRed, 1, 3)));
    layers.push(dots(redLarge, cRed, 8), dots(redSmall, cRed, 4));
    if (panel !== 'e') layers.push(dots(extraNanjingRed, cRed, 6));
    if (panel === 'e') {
        layers.push(dots(panelEBlue, cBlue, 7), dots(panelEPurple, cPurple, 6), dots(panelERed, cRed, 6), dots(panelEBlack, cBlack, 3));
    }
    if (panel === 'f') layers.push(dots(panelFBlack, cBlack, 3.5));
    layers.push(poly(arrowRight, '#ffffff', '#222222', 2), poly(arrowLeft, '#000000', '#000000', 1));
    layers.push(dots(cityPoints, '#000000', 14), dots(cityPoints, '#ffffff', 12), dots(cityPoints, '#000000', 7.5));
    return layers;
}

function mapPanel(cfg) {
    const {box, plot} = cfg;
    const canvas = addCanvas(box.l, box.t, box.w, box.h);
    const lonLabel = v => (v % 2 === 0 && v < 123) ? v + '\u00b0 E' : '';
    const latLabel = v => (v % 2 === 0) ? v + '\u00b0 N' : '';
    new Chart(canvas, {
        type: 'scatter',
        data: {datasets: mapLayers(cfg.panel).map((d, i) => Object.assign(d, {order: -i}))},
        options: {
            responsive: false,
            animation: false,
            layout: {autoPadding: false, padding: {top: plot.t - box.t, right: box.l + box.w - plot.r, left: 0, bottom: 0}},
            plugins: {legend: {display: false}, tooltip: {enabled: false}},
            scales: {
                x: {
                    type: 'linear', min: 117.505, max: 123.005,
                    afterFit(s) { s.height = box.t + box.h - plot.b; noScalePadding(s); },
                    afterBuildTicks(s) { s.ticks = lonTicks.map(v => ({value: v})); },
                    border: {display: false},
                    grid: {drawOnChartArea: false, tickLength: 26, tickColor: '#111', tickWidth: c => c.tick && c.tick.value % 2 === 0 ? 5 : 3},
                    ticks: {autoSkip: false, maxRotation: 0, padding: 3, font: {size: 50}, callback: lonLabel}
                },
                y: {
                    type: 'linear', min: 28.5, max: 33.7,
                    afterFit(s) { s.width = plot.l - box.l; noScalePadding(s); },
                    afterBuildTicks(s) { s.ticks = latTicks.map(v => ({value: v})); },
                    border: {display: false},
                    grid: {drawOnChartArea: false, tickLength: 23, tickColor: '#111', tickWidth: c => c.tick && c.tick.value % 2 === 0 ? 5 : 3},
                    ticks: {autoSkip: false, minRotation: 90, maxRotation: 90, crossAlign: 'center', padding: -32, font: {size: 50}, callback: latLabel}
                }
            }
        },
        plugins: [{
            id: 'sea',
            beforeDatasetsDraw(chart) {
                const a = chart.chartArea, ctx = chart.ctx;
                ctx.fillStyle = '#bee6fe';
                ctx.fillRect(a.left, a.top, a.width, a.height);
            },
            afterDraw(chart) {
                const a = chart.chartArea, ctx = chart.ctx;
                const sx = chart.scales.x, sy = chart.scales.y;
                ctx.strokeStyle = '#111';
                ctx.lineWidth = 4.5;
                ctx.strokeRect(a.left, a.top, a.width, a.height);
                cityNames.forEach((name, i) => {
                    drawText(ctx, name, sx.getPixelForValue(cityPoints[i][0]), sy.getPixelForValue(cityPoints[i][1]) - 48, 'bold 58px "Liberation Serif"', 0, 'center');
                });
                drawText(ctx, 'N', sx.getPixelForValue(arrowN[0]), sy.getPixelForValue(arrowN[1]), '38px "Liberation Sans"', 0, 'center');
                drawText(ctx, cfg.title, cfg.titleX - box.l, 1061 - box.t, '60px "Liberation Serif"');
            }
        }]
    });
}

mapPanel({panel: 'd', box: {l: 0, t: 1000, w: 1150, h: 1140}, plot: {l: 116, t: 1099, r: 1138, b: 2062}, title: '(d) GF/Aqua/SUHI footprints', titleX: 103});
mapPanel({panel: 'e', box: {l: 1150, t: 1000, w: 1130, h: 1140}, plot: {l: 1236, t: 1097, r: 2257, b: 2062}, title: '(e) TRIMS/Aqua/SUHI footprints', titleX: 1249});
mapPanel({panel: 'f', box: {l: 2230, t: 1000, w: 1182, h: 1140}, plot: {l: 2344, t: 1095, r: 3364, b: 2059}, title: '(f) TRIMS/Terra/SUHI footprints', titleX: 2381});

// ---------- bottom legends ----------
function rect(l, t, w, h, style) {
    const d = document.createElement('div');
    d.className = 'r';
    d.style.cssText = `left:${l}px;top:${t}px;width:${w}px;height:${h}px;${style}`;
    document.body.appendChild(d);
}
function label(text, x, y, size, center) {
    const d = document.createElement('div');
    d.className = center ? 't c' : 't';
    d.style.cssText = `left:${x}px;top:${y}px;font-size:${size}px;`;
    d.textContent = text;
    document.body.appendChild(d);
}
const swatchLeft = [431, 617, 808, 993, 1181];
const swatchWidth = [182, 185, 182, 184, 182];
const yearCenter = [549, 735, 923, 1110, 1296];
rect(425, 2163, 943, 66, 'background:#777;');
suhiColors.forEach((c, i) => {
    rect(swatchLeft[i], 2169, swatchWidth[i], 54, 'background:' + c + ';');
    label(legendYears[i], yearCenter[i], 2264, 58, true);
});
label('SUHIs in', 184, 2199, 60);
rect(1472, 2166, 149, 67, 'background:#fff;border:6px solid #777;');
label('Merged urban and builtup lands', 1640, 2207, 60.5);
label('from MCD12Q1 and CLCD data', 1625, 2272, 60);
rect(2554, 2198, 506, 49, 'background:#000;');
rect(2685, 2205, 116, 37, 'background:#fff;');
[['0', 2554], ['75', 2683], ['150', 2807], ['300', 3056]].forEach(p => label(p[0], p[1], 2170, 44, true));
label('Kilometers', 2807, 2284, 55, true);
</script>
</body>
</html>
